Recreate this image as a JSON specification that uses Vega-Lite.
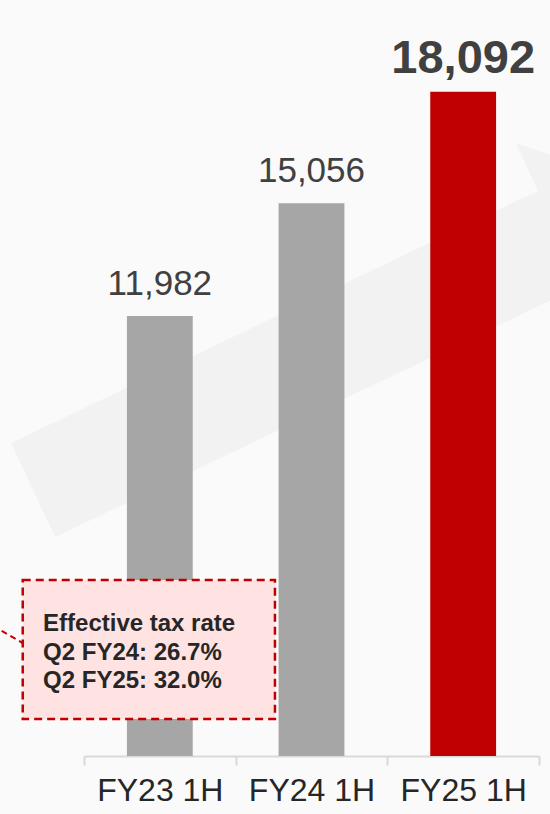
{
  "$schema": "https://vega.github.io/schema/vega-lite/v6.json",
  "autosize": "none",
  "width": 455,
  "height": 756,
  "padding": {"left": 84, "top": 0, "right": 11, "bottom": 58},
  "background": "#fafafa",
  "config": {"view": {"stroke": null}, "font": "Liberation Sans"},
  "datasets": {
    "bars": [
      {"period": "FY23 1H", "value": 11982, "label": "11,982", "hl": "no"},
      {"period": "FY24 1H", "value": 15056, "label": "15,056", "hl": "no"},
      {"period": "FY25 1H", "value": 18092, "label": "18,092", "hl": "yes"}
    ],
    "arrow": [
      {"ord": 1, "xu": -0.481, "v": 8524},
      {"ord": 2, "xu": 2.993, "v": 15387},
      {"ord": 3, "xu": 2.848, "v": 16694},
      {"ord": 4, "xu": 3.771, "v": 15359},
      {"ord": 5, "xu": 3.435, "v": 11520},
      {"ord": 6, "xu": 3.29, "v": 12827},
      {"ord": 7, "xu": -0.191, "v": 5964}
    ],
    "box": [{"x1": -0.404, "x2": 1.259, "v1": 4793, "v2": 1008}],
    "leader": [
      {"ord": 1, "xu": -0.6, "v": 3540},
      {"ord": 2, "xu": -0.404, "v": 3077}
    ],
    "note": [
      {"xu": -0.27, "v": 3404, "t": "Effective tax rate"},
      {"xu": -0.27, "v": 2614, "t": "Q2 FY24: 26.7%"},
      {"xu": -0.27, "v": 1852, "t": "Q2 FY25: 32.0%"}
    ]
  },
  "resolve": {"scale": {"x": "independent"}},
  "layer": [
    {
      "data": {"name": "arrow"},
      "mark": {"type": "line", "fill": "#f2f2f2", "stroke": "#f2f2f2", "strokeWidth": 0, "interpolate": "linear-closed"},
      "encoding": {
        "x": {"field": "xu", "type": "quantitative", "scale": {"domain": [0, 3], "nice": false, "zero": false}, "axis": null},
        "y": {"field": "v", "type": "quantitative", "scale": {"domain": [0, 20590], "nice": false}, "axis": null},
        "order": {"field": "ord"}
      }
    },
    {
      "data": {"name": "bars"},
      "mark": {"type": "bar", "width": {"band": 0.434}},
      "encoding": {
        "x": {"field": "period", "type": "nominal", "sort": null,
          "scale": {"paddingInner": 0, "paddingOuter": 0},
          "axis": {"title": null, "labelAngle": 0, "labelFontSize": 32, "labelFont": "Liberation Sans", "labelColor": "#262626",
            "tickBand": "extent", "domainColor": "#d9d9d9", "tickColor": "#d9d9d9", "domainWidth": 2, "tickWidth": 2, "tickSize": 9, "labelPadding": 10}},
        "y": {"field": "value", "type": "quantitative", "scale": {"domain": [0, 20590], "nice": false}, "axis": null},
        "color": {"field": "hl", "type": "nominal", "scale": {"domain": ["no", "yes"], "range": ["#a6a6a6", "#c00000"]}, "legend": null}
      }
    },
    {
      "data": {"name": "bars"},
      "transform": [{"filter": "datum.hl == 'no'"}],
      "mark": {"type": "text", "fontSize": 35, "font": "Liberation Sans", "color": "#404040", "baseline": "alphabetic", "dy": -21},
      "encoding": {
        "x": {"field": "period", "type": "nominal", "sort": null, "scale": {"domain": ["FY23 1H", "FY24 1H", "FY25 1H"], "paddingInner": 0, "paddingOuter": 0}, "axis": null},
        "y": {"field": "value", "type": "quantitative", "scale": {"domain": [0, 20590], "nice": false}, "axis": null},
        "text": {"field": "label"}
      }
    },
    {
      "data": {"name": "bars"},
      "transform": [{"filter": "datum.hl == 'yes'"}],
      "mark": {"type": "text", "fontSize": 47, "fontWeight": "bold", "font": "Liberation Sans", "color": "#404040", "baseline": "alphabetic", "dy": -19},
      "encoding": {
        "x": {"field": "period", "type": "nominal", "sort": null, "scale": {"domain": ["FY23 1H", "FY24 1H", "FY25 1H"], "paddingInner": 0, "paddingOuter": 0}, "axis": null},
        "y": {"field": "value", "type": "quantitative", "scale": {"domain": [0, 20590], "nice": false}, "axis": null},
        "text": {"field": "label"}
      }
    },
    {
      "data": {"name": "leader"},
      "mark": {"type": "line", "stroke": "#c00000", "strokeWidth": 2, "strokeDash": [6, 4]},
      "encoding": {
        "x": {"field": "xu", "type": "quantitative", "scale": {"domain": [0, 3], "nice": false, "zero": false}, "axis": null},
        "y": {"field": "v", "type": "quantitative", "scale": {"domain": [0, 20590], "nice": false}, "axis": null},
        "order": {"field": "ord"}
      }
    },
    {
      "data": {"name": "box"},
      "mark": {"type": "rect", "fill": "#ffe2e2", "stroke": "#c00000", "strokeWidth": 2.5, "strokeDash": [8, 5]},
      "encoding": {
        "x": {"field": "x1", "type": "quantitative", "scale": {"domain": [0, 3], "nice": false, "zero": false}, "axis": null},
        "x2": {"field": "x2"},
        "y": {"field": "v1", "type": "quantitative", "scale": {"domain": [0, 20590], "nice": false}, "axis": null},
        "y2": {"field": "v2"}
      }
    },
    {
      "data": {"name": "note"},
      "mark": {"type": "text", "fontSize": 24, "fontWeight": "bold", "font": "Liberation Sans", "color": "#262626", "align": "left", "baseline": "alphabetic"},
      "encoding": {
        "x": {"field": "xu", "type": "quantitative", "scale": {"domain": [0, 3], "nice": false, "zero": false}, "axis": null},
        "y": {"field": "v", "type": "quantitative", "scale": {"domain": [0, 20590], "nice": false}, "axis": null},
        "text": {"field": "t"}
      }
    }
  ]
}
